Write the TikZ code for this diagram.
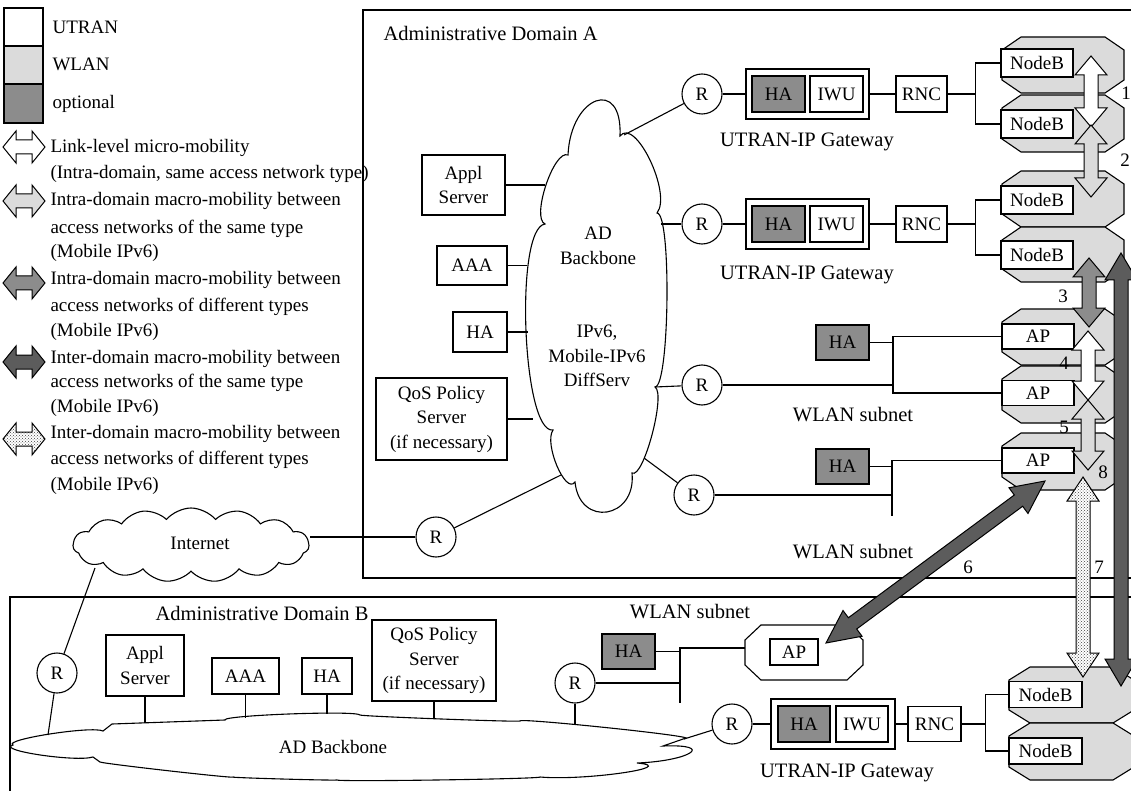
\documentclass[tikz,border=0pt]{standalone}
\usepackage{fontspec}
\setmainfont{Liberation Serif}
\usetikzlibrary{calc,shapes.symbols,patterns}

\definecolor{wlan}{gray}{0.86}
\definecolor{opt}{gray}{0.55}
\definecolor{inter}{gray}{0.36}

% octagonal radio cell: [fill]{left}{top}{right}{bottom}{dx}{dy}
\newcommand\octcell[7][wlan]{%
  \draw[fill=#1] (#2+#6,#3) -- (#4-#6,#3) -- (#4,#3+#7) -- (#4,#5-#7)
    -- (#4-#6,#5) -- (#2+#6,#5) -- (#2,#5-#7) -- (#2,#3+#7) -- cycle;}

% block double arrow between two tips: [style]{tip}{tip}{head length}
\newcommand\dblarrow[4][]{%
  \path ($(#2)!#4!(#3)$) coordinate (da) ($(#3)!#4!(#2)$) coordinate (db);
  \draw[blockarrow,#1] (#2) -- ($(da)!16pt!90:(#3)$) -- ($(da)!7pt!90:(#3)$)
    -- ($(db)!7pt!-90:(#2)$) -- ($(db)!16pt!-90:(#2)$) -- (#3)
    -- ($(db)!16pt!90:(#2)$) -- ($(db)!7pt!90:(#2)$)
    -- ($(da)!7pt!-90:(#3)$) -- ($(da)!16pt!-90:(#3)$) -- cycle;}

% one puff of a cloud outline: {from}{apex}{to}
\tikzset{lobe/.style n args={3}{insert path={
  .. controls ($0.3333*(#1)+1.3333*(#2)-0.6667*(#3)$)
  and ($0.3333*(#3)+1.3333*(#2)-0.6667*(#1)$) .. (#3)}}}

\begin{document}
\begin{tikzpicture}[x=1pt,y=-1pt,line width=1.1pt,
  font=\fontsize{19}{24.5}\selectfont,
  box/.style={draw,fill=white,inner sep=0pt,align=center},
  optbox/.style={box,fill=opt},
  router/.style={draw,fill=white,circle,minimum size=40pt,inner sep=0pt},
  lbl/.style={inner sep=0pt,align=center},
  biglbl/.style={lbl,font=\fontsize{20.5}{25}\selectfont},
  lg/.style={inner sep=0pt,anchor=base west},
  blockarrow/.style={draw,line width=1pt,line join=miter},
  dotfill/.style={preaction={fill=white},pattern=crosshatch dots,pattern color=black!75}]

\useasboundingbox (0,0) rectangle (1131,791);

% ---------- legend ----------
\draw[fill=white] (4,8) rectangle (43,46);
\draw[fill=wlan] (4,46) rectangle (43,84);
\draw[fill=opt] (4,84) rectangle (43,123);
\node[lg] (kutran) at (52,34) {UTRAN};
\node[lg] (kwlan) at (52,71) {WLAN};
\node[lg] (kopt) at (52,109) {optional};

\dblarrow[fill=white]{3,147}{45,147}{13pt}
\dblarrow[fill=wlan]{3,201}{45,201}{13pt}
\dblarrow[fill=opt]{3,283}{45,283}{13pt}
\dblarrow[fill=inter]{3,362}{45,362}{13pt}
\dblarrow[dotfill]{3,439}{45,439}{13pt}

\node[lg] (t1) at (50,153) {Link-level micro-mobility};
\node[lg] (t2) at (50,179) {(Intra-domain, same access network type)};
\node[lg] (t3) at (50,206) {Intra-domain macro-mobility between};
\node[lg] (t4) at (50,234) {access networks of the same type};
\node[lg] (t5) at (50,258) {(Mobile IPv6)};
\node[lg] (t6) at (50,284) {Intra-domain macro-mobility between};
\node[lg] (t7) at (50,311) {access networks of different types};
\node[lg] (t8) at (50,336) {(Mobile IPv6)};
\node[lg] (t9) at (50,363) {Inter-domain macro-mobility between};
\node[lg] (t10) at (50,387) {access networks of the same type};
\node[lg] (t11) at (50,412) {(Mobile IPv6)};
\node[lg] (t12) at (50,438) {Inter-domain macro-mobility between};
\node[lg] (t13) at (50,464) {access networks of different types};
\node[lg] (t14) at (50,490) {(Mobile IPv6)};

% ---------- administrative domains ----------
\draw (363,10) rectangle (1145,578);
\draw (10,597) rectangle (1145,805);
\node[biglbl,anchor=west] (domA) at (383,33) {Administrative Domain A};
\node[biglbl,anchor=west] (domB) at (155,613) {Administrative Domain B};

% ---------- backbone of domain A ----------
\draw[fill=white] (568,155) [lobe={568,155}{596,101}{620,136}]
  [lobe={620,136}{650,160}{657,213}] [lobe={657,213}{667,300}{655,387}]
  [lobe={655,387}{652,435}{632,473}] [lobe={632,473}{607,512}{575,482}]
  [lobe={575,482}{557,466}{553,430}] [lobe={553,430}{526,330}{545,224}]
  [lobe={545,224}{546,185}{568,155}] -- cycle;
\node[lbl] (adA) at (598,246) {AD\\Backbone};
\node[lbl] (ipA) at (597,356) {IPv6,\\Mobile-IPv6\\DiffServ};

\coordinate (ca1) at (624,135);
\coordinate (ca2) at (661,224);
\coordinate (ca3) at (655,387);
\coordinate (ca4) at (644,458);
\coordinate (ca5) at (561,475);
\coordinate (ca6) at (545,185);
\coordinate (ca7) at (527,265.5);
\coordinate (ca8) at (528,332);
\coordinate (ca9) at (533,419);

\node[box,minimum width=83pt,minimum height=60pt] (applA) at (463.5,185) {Appl\\Server};
\node[box,minimum width=70pt,minimum height=39pt] (aaaA) at (472,265.5) {AAA};
\node[box,minimum width=54pt,minimum height=40pt] (haA) at (480,332) {HA};
\node[box,minimum width=131pt,minimum height=82pt] (qosA) at (441.5,419) {QoS Policy\\Server\\(if necessary)};
\draw (applA) -- (ca6);
\draw (aaaA) -- (ca7);
\draw (haA) -- (ca8);
\draw (qosA) -- (ca9);

% ---------- routers of domain A ----------
\node[router] (r1) at (702,94) {R};
\node[router] (r2) at (702,224) {R};
\node[router] (r3) at (702,385) {R};
\node[router] (r4) at (694,495) {R};
\node[router] (r5) at (436,537) {R};
\draw (ca1) -- (r1);
\draw (ca2) -- (r2);
\draw (ca3) -- (r3);
\draw (ca4) -- (r4);
\draw (ca5) -- (r5);

% ---------- UTRAN-IP gateways of domain A ----------
\node[box,minimum width=123pt,minimum height=50pt] (gw1) at (807.5,94) {};
\node[optbox,minimum width=53pt,minimum height=36pt] (ha1) at (778.5,94) {HA};
\node[box,minimum width=53pt,minimum height=36pt] (iwu1) at (836.5,94) {IWU};
\node[box,minimum width=51pt,minimum height=36pt] (rnc1) at (921.5,94) {RNC};
\node[biglbl] (gwl1) at (807,142) {UTRAN-IP Gateway};
\draw (r1) -- (gw1);
\draw (gw1) -- (rnc1);

\node[box,minimum width=123pt,minimum height=50pt] (gw2) at (807.5,224) {};
\node[optbox,minimum width=53pt,minimum height=36pt] (ha2) at (778.5,224) {HA};
\node[box,minimum width=53pt,minimum height=36pt] (iwu2) at (836.5,224) {IWU};
\node[box,minimum width=51pt,minimum height=36pt] (rnc2) at (921.5,224) {RNC};
\node[biglbl] (gwl2) at (807,275) {UTRAN-IP Gateway};
\draw (r2) -- (gw2);
\draw (gw2) -- (rnc2);

% ---------- radio cells of domain A ----------
\octcell{1002}{37}{1124}{93}{19}{13}
\octcell{1002}{95}{1124}{152}{19}{13}
\octcell{1002}{171}{1124}{227}{19}{13}
\octcell{1002}{227}{1124}{282}{19}{13}
\octcell{1002}{309}{1124}{365}{19}{13}
\octcell{1002}{366}{1124}{423}{19}{13}
\octcell{1002}{433}{1124}{490}{19}{13}

\node[box,minimum width=72pt,minimum height=28pt] (nb1) at (1037,63) {NodeB};
\node[box,minimum width=72pt,minimum height=28pt] (nb2) at (1037,124) {NodeB};
\node[box,minimum width=72pt,minimum height=28pt] (nb3) at (1037,200) {NodeB};
\node[box,minimum width=72pt,minimum height=28pt] (nb4) at (1037,255) {NodeB};
\node[box,minimum width=72pt,minimum height=25pt] (ap1) at (1038,336.5) {AP};
\node[box,minimum width=72pt,minimum height=25pt] (ap2) at (1038,393) {AP};
\node[box,minimum width=72pt,minimum height=25pt] (ap3) at (1038,460.5) {AP};

\draw (rnc1.east) -- ++(28,0) coordinate (j1);
\draw (nb1.west) -| (j1) |- (nb2.west);
\draw (rnc2.east) -- ++(28,0) coordinate (j2);
\draw (nb3.west) -| (j2) |- (nb4.west);

% ---------- WLAN subnets of domain A ----------
\node[optbox,minimum width=53pt,minimum height=35pt] (haw1) at (842.5,342.5) {HA};
\coordinate (v1) at (893,336.5);
\draw (ap1.west) -- (v1) -- (v1 |- ap2.west) -- (ap2.west);
\draw (haw1.east) -- (haw1.east -| v1);
\draw (r3) -- (r3 -| v1);
\node[biglbl] (wl1) at (853,415) {WLAN subnet};

\node[optbox,minimum width=53pt,minimum height=35pt] (haw2) at (842.5,466.5) {HA};
\coordinate (v2) at (892,516);
\draw (ap3.west) -- (ap3.west -| v2) -- (v2);
\draw (haw2.east) -- (haw2.east -| v2);
\draw (r4) -- (r4 -| v2);
\node[biglbl] (wl2) at (853,552) {WLAN subnet};

% ---------- Internet ----------
\node[cloud,draw,fill=white,cloud puffs=15,cloud puff arc=100,cloud ignores aspect,
  minimum width=236pt,minimum height=74pt,inner sep=0pt] (inet) at (191,545) {};
\node[lbl] (inettxt) at (200,543) {Internet};
\coordinate (ci) at (95,568);
\draw (r5) -- (r5 -| inet.east);

% ---------- backbone of domain B ----------
\draw[fill=white] (13,745) [lobe={13,745}{50,734}{103,731}] -- (112,724)
  [lobe={112,724}{170,722}{225,720}] [lobe={225,720}{290,714}{360,715}]
  [lobe={360,715}{440,719}{520,721}] [lobe={520,721}{600,727}{686,738}]
  -- (663,746) [lobe={663,746}{690,753}{637,763}]
  [lobe={637,763}{622,773}{540,777}] [lobe={540,777}{440,780}{337,780}]
  [lobe={337,780}{280,779}{233,777}] [lobe={233,777}{170,771}{100,762}]
  -- (93,757) [lobe={93,757}{40,755}{13,745}] -- cycle;
\node[lbl] (adB) at (333,747) {AD Backbone};

\coordinate (cb1) at (48,735);
\coordinate (cb2) at (145,723);
\coordinate (cb3) at (245.5,718);
\coordinate (cb4) at (327,713.5);
\coordinate (cb5) at (434,718.5);
\coordinate (cb6) at (575,724);
\coordinate (cb7) at (684,739);

\node[router] (rb1) at (57,673) {R};
\draw (rb1) -- (ci);
\draw (rb1) -- (cb1);

\node[box,minimum width=78pt,minimum height=61pt] (applB) at (145,665.5) {Appl\\Server};
\node[box,minimum width=67pt,minimum height=36pt] (aaaB) at (245.5,676) {AAA};
\node[box,minimum width=50pt,minimum height=36pt] (haB) at (327,676) {HA};
\node[box,minimum width=124pt,minimum height=81pt] (qosB) at (434,660.5) {QoS Policy\\Server\\(if necessary)};
\draw (applB) -- (cb2);
\draw (aaaB) -- (cb3);
\draw (haB) -- (cb4);
\draw (qosB) -- (cb5);

% ---------- WLAN subnet of domain B ----------
\octcell[white]{745}{625}{863}{680}{16}{15}
\coordinate (apbw) at (745,648);
\node[box,minimum width=48pt,minimum height=26pt] (apb) at (794,652) {AP};
\node[optbox,minimum width=53pt,minimum height=35pt] (hab) at (628.5,651.5) {HA};
\node[router] (rb2) at (575,683) {R};
\coordinate (v3) at (680,703);
\draw (apbw) -- (apbw -| v3) -- (v3);
\draw (hab.east) -- (hab.east -| v3);
\draw (rb2) -- (rb2 -| v3);
\draw (rb2) -- (cb6);
\node[biglbl] (wl3) at (690,612) {WLAN subnet};

% ---------- UTRAN-IP gateway of domain B ----------
\node[router] (rb3) at (732,724) {R};
\node[box,minimum width=124pt,minimum height=50pt] (gwb) at (833,724) {};
\node[optbox,minimum width=52pt,minimum height=36pt] (hagb) at (804,724) {HA};
\node[box,minimum width=52pt,minimum height=36pt] (iwub) at (862,724) {IWU};
\node[box,minimum width=53pt,minimum height=35pt] (rncb) at (934.5,724) {RNC};
\node[biglbl] (gwlb) at (847,773) {UTRAN-IP Gateway};
\draw (cb7) -- (rb3);
\draw (rb3) -- (gwb);
\draw (gwb) -- (rncb);

\octcell{1009}{667}{1134}{723}{21}{13}
\octcell{1009}{723}{1134}{780}{21}{13}
\node[box,minimum width=73pt,minimum height=26pt] (nb5) at (1045.5,694.5) {NodeB};
\node[box,minimum width=73pt,minimum height=26pt] (nb6) at (1045.5,751) {NodeB};
\draw (rncb.east) -- ++(24,0) coordinate (j3);
\draw (nb5.west) -| (j3) |- (nb6.west);

% ---------- mobility arrows ----------
\dblarrow[fill=white]{1091,56}{1091,127}{19pt}
\dblarrow[fill=wlan]{1091,125}{1091,197}{19pt}
\dblarrow[fill=opt]{1089,258}{1089,327}{19pt}
\dblarrow[fill=white]{1088,331}{1088,400}{19pt}
\dblarrow[fill=wlan]{1088,400}{1088,470}{19pt}
\dblarrow[dotfill]{1083,477}{1083,677}{24pt}
\dblarrow[fill=inter]{1121,253}{1121,686}{27pt}
\dblarrow[fill=inter]{826,643}{1045,481}{33pt}

\node[lbl] (n1) at (1126,93) {1};
\node[lbl] (n2) at (1125,160) {2};
\node[lbl] (n3) at (1063,296) {3};
\node[lbl] (n4) at (1064,363) {4};
\node[lbl] (n5) at (1064,427) {5};
\node[lbl] (n8) at (1103,472) {8};
\node[lbl] (n6) at (968,567) {6};
\node[lbl] (n7) at (1099,567) {7};
\end{tikzpicture}
\end{document}
